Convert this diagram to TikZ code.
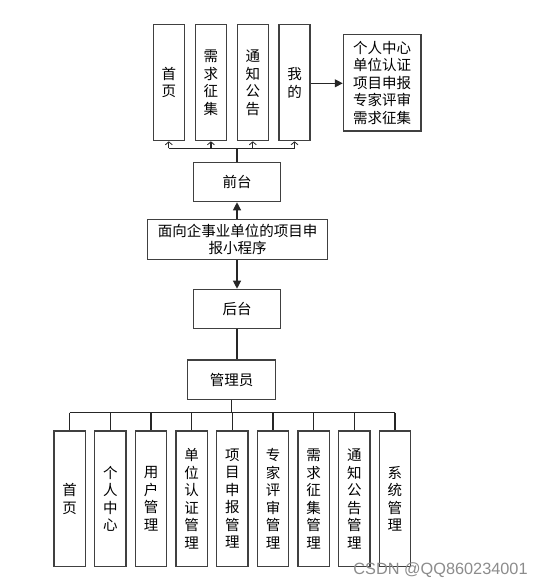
\documentclass[tikz,border=0pt]{standalone}
\usepackage{fontspec}
\newfontfamily\cjk{Noto Sans CJK SC}
\newfontfamily\wmfont{Liberation Sans}
\usetikzlibrary{arrows.meta, positioning, calc}

\begin{document}
\begin{tikzpicture}[x=1pt, y=-1pt,
  box/.style={draw=black!75, line width=1.2pt, fill=white, inner sep=0pt, align=center,
    font=\cjk\fontsize{14.5}{17.5}\selectfont},
  tallbox/.style={box, minimum width=31pt, minimum height=116pt},
  lowbox/.style={box, minimum width=31.3pt, minimum height=135.7pt},
  midbox/.style={box, minimum width=87.4pt, minimum height=39pt},
  link/.style={black!85, line width=1.2pt},
  fillarrow/.style={link, -{Triangle[length=8pt, width=8pt]}},
  barbarrow/.style={link, -{Straight Barb[length=3pt, width=7pt, line width=0.8pt]}}]
\useasboundingbox[fill=white] (0,0) rectangle (543,588);
% Front end pages
\node[tallbox] (t1) at (168.8,82.7) {首\\页};
\node[tallbox] (t2) at (210.9,82.7) {需\\求\\征\\集};
\node[tallbox] (t3) at (252.8,82.7) {通\\知\\公\\告};
\node[tallbox] (t4) at (294.5,82.7) {我\\的};
\node[box, minimum width=77.7pt, minimum height=96.7pt] (mine) at (382.2,82.7)
  {个人中心\\单位认证\\项目申报\\专家评审\\需求征集};
\draw[fillarrow] (t4.east |- 0,83.3) -- (mine.west |- 0,83.3);
% Middle column
\node[midbox] (front) at (237,182.2) {前台};
\node[box, minimum width=180.4pt, minimum height=40pt] (app) at (237.5,239.3)
  {面向企事业单位的项目申\\报小程序};
\node[midbox] (back) at (237,308.8) {后台};
\node[midbox, minimum width=87.6pt, minimum height=39.3pt] (admin) at (231.5,379.7) {管理员};
\coordinate (topbus) at (237,148.3);
\draw[link] (front.north) -- (topbus);
\draw[link] (t1 |- topbus) -- (t4 |- topbus);
\foreach \i in {1,...,4}
  \draw[barbarrow] (t\i |- topbus) -- (t\i.south);
\draw[fillarrow] (app.north -| front) -- (front.south);
\draw[fillarrow] (app.south -| back) -- (back.north);
\draw[link] (back.south) -- (back.south |- admin.north);
% Admin functions
\coordinate (lowbus) at (231.3,412.7);
\foreach \txt [count=\i] in {首\\页, 个\\人\\中\\心, 用\\户\\管\\理, 单\\位\\认\\证\\管\\理,
    项\\目\\申\\报\\管\\理, 专\\家\\评\\审\\管\\理, 需\\求\\征\\集\\管\\理,
    通\\知\\公\\告\\管\\理, 系\\统\\管\\理}
  \node[lowbox] (b\i) at ({69.7+40.66*(\i-1)},498.8) {\txt};
\draw[link] (admin.south -| lowbus) -- (lowbus);
\draw[link] (b1 |- lowbus) -- (b9 |- lowbus);
\foreach \i in {1,...,9}
  \draw[link] (b\i |- lowbus) -- (b\i.north);
% Watermark
\node[font=\wmfont\fontsize{16.3}{18}\selectfont, text=black!45] (mark) at (440.5,570.5) {CSDN @QQ860234001};
\end{tikzpicture}
\end{document}
